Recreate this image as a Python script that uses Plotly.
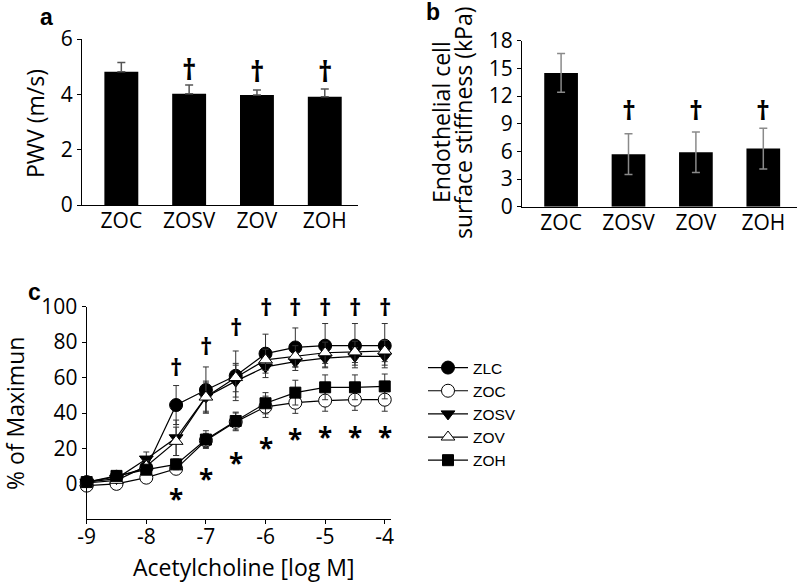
import plotly.graph_objects as go

W, H = 797, 583

# ---------------- data ----------------
groups = ["ZOC", "ZOSV", "ZOV", "ZOH"]
pwv = [4.82, 4.02, 3.98, 3.91]
pwv_err = [0.33, 0.32, 0.18, 0.28]
pwv_dagger_groups = ["ZOSV", "ZOV", "ZOH"]
pwv_dagger_y = [4.93, 4.85, 4.85]

stiffness = [14.5, 5.7, 5.9, 6.3]
stiffness_err = [2.1, 2.2, 2.2, 2.2]
stiff_dagger_groups = ["ZOSV", "ZOV", "ZOH"]
stiff_dagger_y = [10.5, 10.5, 10.5]

ach = [-9, -8.5, -8, -7.5, -7, -6.5, -6, -5.5, -5, -4.5, -4]
zlc = [1, 4, 9, 44.5, 53, 61, 73.5, 77, 78, 78, 78]
zlc_err = [1, 1, 3, 11, 13, 14, 11, 11, 12.5, 12.5, 12.5]
zoc = [-1, 0, 3.5, 8.5, 24.5, 35, 43.5, 45.8, 47, 47.5, 47.5]
zoc_err = [1, 1, 1, 2, 4, 5, 6, 6, 6, 6, 6.5]
zosv = [1, 3, 14, 26, 49, 58, 66, 69, 71, 72, 72]
zosv_err = [1, 1, 4, 10, 9, 9, 6, 5, 5, 5, 5]
zov = [0.5, 2, 10, 24, 49, 60, 70, 72, 74, 74.5, 75]
zov_err = [1, 1, 3, 8, 8, 8, 6, 6, 6, 6, 6]
zoh = [1, 4.5, 8, 11, 25, 35.5, 45.5, 51.5, 54.5, 54.5, 55]
zoh_err = [1, 1, 2, 3, 5, 5, 6, 7, 7, 7, 7]

sig_x = [-7.5, -7, -6.5, -6, -5.5, -5, -4.5, -4]
dagger_y = [66.4, 78.3, 88.6, 100, 100, 100, 100, 100]
star_y = [-6.6, 4.3, 13.2, 21.7, 26.8, 28, 28, 28]

x_ticks = [-9, -8, -7, -6, -5, -4]
pct_ticks = [0, 20, 40, 60, 80, 100]
pwv_ticks = [0, 2, 4, 6]
stiff_ticks = [0, 3, 6, 9, 12, 15, 18]

# ---------------- style ----------------
TF = "Open Sans"
fig = go.Figure()

fig.add_trace(go.Bar(
    x=groups, y=pwv, marker=dict(color="black", line=dict(width=0)),
    error_y=dict(type="data", array=pwv_err, arrayminus=[0] * 4, symmetric=False,
                 color="#555555", thickness=1.5, width=4),
    xaxis="x", yaxis="y", showlegend=False))

fig.add_trace(go.Bar(
    x=groups, y=stiffness, marker=dict(color="black", line=dict(width=0)),
    error_y=dict(type="data", array=stiffness_err, color="#8a8a8a", thickness=1.5, width=4),
    xaxis="x2", yaxis="y2", showlegend=False))

series = [
    ("ZLC", zlc, zlc_err, "circle", "black", 13),
    ("ZOC", zoc, zoc_err, "circle", "white", 13),
    ("ZOSV", zosv, zosv_err, "triangle-down", "black", 12),
    ("ZOV", zov, zov_err, "triangle-up", "white", 12),
    ("ZOH", zoh, zoh_err, "square", "black", 11),
]
for name, ys, es, sym, fill, sz in series:
    fig.add_trace(go.Scatter(
        x=ach, y=ys, name=name, mode="lines+markers",
        line=dict(color="black", width=1.2),
        marker=dict(symbol=sym, size=sz, color=fill, line=dict(color="black", width=1)),
        error_y=dict(type="data", array=es, color="#333333", thickness=1, width=3),
        xaxis="x3", yaxis="y3", cliponaxis=False))

C = dict(xanchor="center", yanchor="middle", showarrow=False)
annotations = []
for g, yv in zip(pwv_dagger_groups, pwv_dagger_y):
    annotations.append(dict(x=g, y=yv, xref="x", yref="y", text="<b>†</b>",
                            font=dict(family=TF, size=28, color="black"), **C))
for g, yv in zip(stiff_dagger_groups, stiff_dagger_y):
    annotations.append(dict(x=g, y=yv, xref="x2", yref="y2", text="<b>†</b>",
                            font=dict(family=TF, size=27, color="black"), **C))
for xv, yv in zip(sig_x, dagger_y):
    annotations.append(dict(x=xv, y=yv, xref="x3", yref="y3", text="<b>†</b>",
                            font=dict(family=TF, size=24, color="black"), **C))
for xv, yv in zip(sig_x, star_y):
    annotations.append(dict(x=xv, y=yv, xref="x3", yref="y3", text="<b>*</b>",
                            yshift=-3, font=dict(family=TF, size=26, color="black"), **C))

def px(x):
    return x / W

def py(y):
    return 1 - y / H

# axis titles & panel labels
title_font = dict(family=TF, size=23, color="black")
lab_font = dict(family="Liberation Sans", size=23, color="black")
annotations += [
    dict(x=px(35), y=py(124), xref="paper", yref="paper", text="PWV (m/s)", textangle=-90,
         font=title_font, **C),
    dict(x=px(441), y=py(122), xref="paper", yref="paper", text="Endothelial cell", textangle=-90,
         font=title_font, **C),
    dict(x=px(463), y=py(122), xref="paper", yref="paper", text="surface stiffness (kPa)", textangle=-90,
         font=title_font, **C),
    dict(x=px(15), y=py(414), xref="paper", yref="paper", text="% of Maximun", textangle=-90,
         font=title_font, **C),
    dict(x=px(243), y=py(567), xref="paper", yref="paper", text="Acetylcholine [log M]",
         font=title_font, **C),
    dict(x=px(46), y=py(17), xref="paper", yref="paper", text="<b>a</b>", font=lab_font, **C),
    dict(x=px(433), y=py(12), xref="paper", yref="paper", text="<b>b</b>", font=lab_font, **C),
    dict(x=px(34), y=py(292), xref="paper", yref="paper", text="<b>c</b>", font=lab_font, **C),
]

tick_font = dict(family=TF, size=21, color="black")
common_y = dict(showline=True, linecolor="black", linewidth=1.2, ticks="outside", ticklen=4,
                tickcolor="black", tickwidth=1, showgrid=False, zeroline=False, tickfont=tick_font,
                automargin=False)
common_xcat = dict(showline=True, linecolor="black", linewidth=1.2, ticks="", showgrid=False,
                   zeroline=False, tickfont=tick_font, automargin=False, ticklabelstandoff=-3)

fig.update_layout(
    template="none",
    width=W, height=H, margin=dict(l=0, r=0, t=0, b=0, autoexpand=False),
    paper_bgcolor="white", plot_bgcolor="white",
    bargap=0.5,
    xaxis=dict(domain=[px(82), px(358)], range=[-0.58, 3.49], anchor="y", **common_xcat),
    yaxis=dict(domain=[py(205), py(39)], range=[0, 6], tickvals=pwv_ticks, anchor="x", **common_y),
    xaxis2=dict(domain=[px(522), px(797)], range=[-0.58, 3.5], anchor="y2", **common_xcat),
    yaxis2=dict(domain=[py(206.7), py(40.7)], range=[0, 18], tickvals=stiff_ticks, anchor="x2", **common_y),
    xaxis3=dict(domain=[px(86.7), px(390.7)], range=[-9, -3.9], tickvals=x_ticks,
                ticktext=[str(v) for v in x_ticks], anchor="y3", ticklabelstandoff=-6, **common_y),
    yaxis3=dict(domain=[py(519.3), py(306.7)], range=[-20, 100], tickvals=pct_ticks, anchor="x3", **common_y),
    legend=dict(x=px(423), y=py(351), xanchor="left", yanchor="top", itemwidth=40,
                font=dict(family="Liberation Sans", size=15.5, color="black"),
                bgcolor="rgba(0,0,0,0)", tracegroupgap=0),
    annotations=annotations,
)

fig.write_html("out.html", config={"displayModeBar": False},
               post_script="document.body.style.margin='0';document.body.style.overflow='hidden';")
